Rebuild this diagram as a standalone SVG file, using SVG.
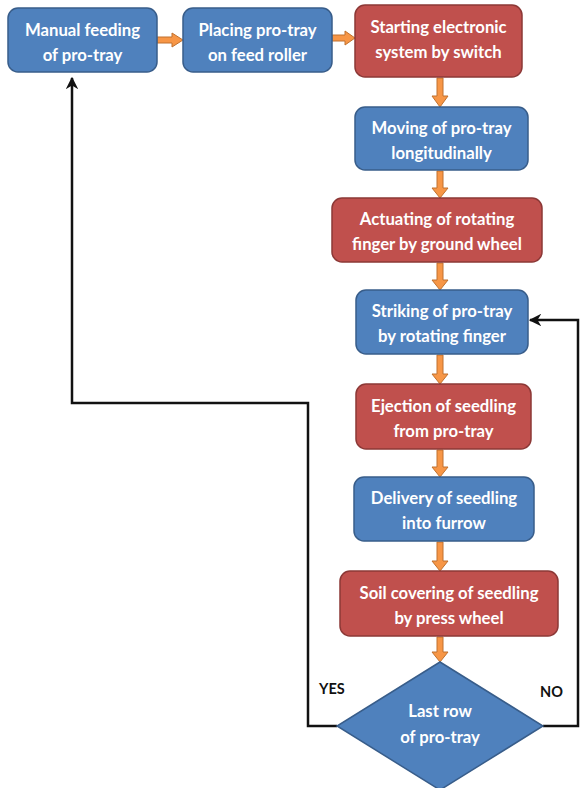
<svg xmlns="http://www.w3.org/2000/svg" width="580" height="788" viewBox="0 0 580 788">
<defs>
<style>
.blue{fill:#4F81BD;stroke:#385D8A;stroke-width:1.5}
.red{fill:#C0504D;stroke:#8C3836;stroke-width:1.5}
.t{font-family:Lato,"Liberation Sans",sans-serif;font-weight:bold;font-size:16.7px;fill:#fff;text-anchor:middle}
.lbl{font-family:Lato,"Liberation Sans",sans-serif;font-weight:bold;font-size:14.5px;fill:#111}
.oa{fill:#F79646;stroke:#C0712E;stroke-width:1}
.bl{fill:none;stroke:#111;stroke-width:2.5}
</style>
<marker id="ah" viewBox="0 0 10 10" refX="9" refY="5" markerWidth="5" markerHeight="5" orient="auto" markerUnits="strokeWidth">
<path d="M0,0 L10,5 L0,10 L3,5 z" fill="#111"/>
</marker>
</defs>
<rect width="580" height="788" fill="#fff"/>
<g id="connectors">
<polygon class="oa" points="157,37 172,37 172,33 183,40 172,47 172,43 157,43"/>
<polygon class="oa" points="332,35 345,35 345,31 355,38 345,45 345,41 332,41"/>
<polygon class="oa" points="437,78 443,78 443,96 448,96 440,107 432,96 437,96"/>
<polygon class="oa" points="437,171 443,171 443,188 448,188 440,198 432,188 437,188"/>
<polygon class="oa" points="437,263 443,263 443,280 448,280 440,290 432,280 437,280"/>
<polygon class="oa" points="437,355 443,355 443,374 448,374 440,384 432,374 437,374"/>
<polygon class="oa" points="437,450 443,450 443,467 448,467 440,477 432,467 437,467"/>
<polygon class="oa" points="437,542 443,542 443,561 448,561 440,571 432,561 437,561"/>
<polygon class="oa" points="437,637 443,637 443,652 448,652 440,662 432,652 437,652"/>
<polyline class="bl" points="337,726 308,726 308,403 72,403 72,78" marker-end="url(#ah)"/>
<polyline class="bl" points="543,726 578,726 578,320 530,320" marker-end="url(#ah)"/>
</g>
<g id="n1"><rect class="blue" x="8" y="8" width="149" height="64" rx="10"/><text class="t" x="82.5" y="36">Manual feeding</text><text class="t" x="82.5" y="61">of pro-tray</text></g>
<g id="n2"><rect class="blue" x="183" y="8" width="149" height="64" rx="10"/><text class="t" x="257.5" y="36">Placing pro-tray</text><text class="t" x="257.5" y="61">on feed roller</text></g>
<g id="n3"><rect class="red" x="355" y="5" width="167" height="72" rx="10"/><text class="t" x="438.5" y="33">Starting electronic</text><text class="t" x="438.5" y="58">system by switch</text></g>
<g id="n4"><rect class="blue" x="355" y="107" width="173" height="63" rx="10"/><text class="t" x="441.5" y="134">Moving of pro-tray</text><text class="t" x="441.5" y="159">longitudinally</text></g>
<g id="n5"><rect class="red" x="332" y="198" width="210" height="64" rx="10"/><text class="t" x="437" y="225">Actuating of rotating</text><text class="t" x="437" y="250">finger by ground wheel</text></g>
<g id="n6"><rect class="blue" x="356" y="290" width="172" height="64" rx="10"/><text class="t" x="442" y="317">Striking of pro-tray</text><text class="t" x="442" y="342">by rotating finger</text></g>
<g id="n7"><rect class="red" x="356" y="384" width="175" height="65" rx="10"/><text class="t" x="443.5" y="412">Ejection of seedling</text><text class="t" x="443.5" y="437">from pro-tray</text></g>
<g id="n8"><rect class="blue" x="354" y="477" width="180" height="64" rx="10"/><text class="t" x="444" y="504">Delivery of seedling</text><text class="t" x="444" y="529">into furrow</text></g>
<g id="n9"><rect class="red" x="340" y="571" width="218" height="65" rx="10"/><text class="t" x="449" y="599">Soil covering of seedling</text><text class="t" x="449" y="624">by press wheel</text></g>
<g id="n10"><polygon class="blue" points="440,662 543,726 440,790 337,726"/><text class="t" x="440" y="717">Last row</text><text class="t" x="440" y="743">of pro-tray</text></g>
<text class="lbl" x="319" y="694">YES</text>
<text class="lbl" x="540" y="697">NO</text>
</svg>
